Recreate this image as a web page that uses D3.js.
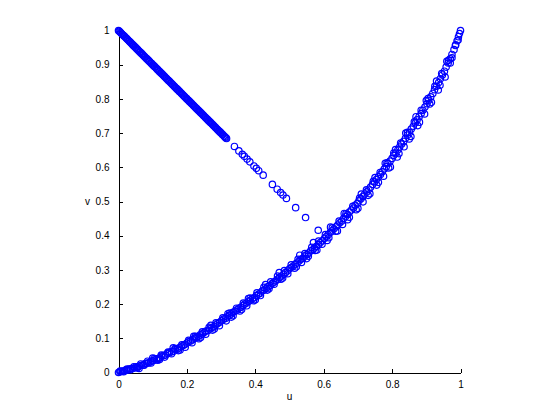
<!DOCTYPE html>
<html>
<head>
<meta charset="utf-8">
<script src="https://cdn.jsdelivr.net/npm/d3@7"></script>
<style>
  body { margin: 0; background: #fff; }
  .axis text { font-family: "Liberation Sans", Arial, sans-serif; font-size: 10px; fill: #000; }
  .axis path, .axis line { stroke: #000; shape-rendering: crispEdges; }
  .label { font-family: "Liberation Sans", Arial, sans-serif; font-size: 10px; fill: #000; }
</style>
</head>
<body>
<div id="chart"></div>
<script>
// points lying on the falling line v = 1 - u
var lineU = [0, 0.004, 0.008, 0.012, 0.016, 0.021, 0.025, 0.03, 0.034, 0.039,
  0.043, 0.048, 0.053, 0.057, 0.062, 0.067, 0.071, 0.076, 0.081, 0.086,
  0.09, 0.095, 0.1, 0.105, 0.11, 0.114, 0.119, 0.124, 0.129, 0.134,
  0.139, 0.144, 0.148, 0.153, 0.158, 0.163, 0.168, 0.173, 0.178, 0.183,
  0.188, 0.193, 0.198, 0.203, 0.208, 0.213, 0.218, 0.223, 0.228, 0.233,
  0.238, 0.243, 0.248, 0.253, 0.258, 0.263, 0.268, 0.273, 0.278, 0.283,
  0.288, 0.293, 0.298, 0.303, 0.308, 0.312, 0.316,
  0.339, 0.352, 0.362, 0.368, 0.376, 0.384, 0.396, 0.403, 0.410, 0.423,
  0.450, 0.464, 0.474, 0.481, 0.491, 0.518, 0.547, 0.584];
var lineV = [1.000, 0.996, 0.992, 0.988, 0.984, 0.979, 0.975, 0.970, 0.966, 0.961,
  0.957, 0.952, 0.947, 0.943, 0.938, 0.933, 0.929, 0.924, 0.919, 0.914,
  0.910, 0.905, 0.900, 0.895, 0.890, 0.886, 0.881, 0.876, 0.871, 0.866,
  0.861, 0.856, 0.852, 0.847, 0.842, 0.837, 0.832, 0.827, 0.822, 0.817,
  0.812, 0.807, 0.802, 0.797, 0.792, 0.787, 0.782, 0.777, 0.772, 0.767,
  0.762, 0.757, 0.752, 0.747, 0.742, 0.737, 0.732, 0.727, 0.722, 0.717,
  0.712, 0.707, 0.702, 0.697, 0.692, 0.688, 0.684,
  0.661, 0.648, 0.638, 0.632, 0.624, 0.616, 0.604, 0.597, 0.590, 0.577,
  0.550, 0.536, 0.526, 0.519, 0.509, 0.482, 0.453, 0.416];

// more points in the dense upper part of the line
var lineU2 = [0.002, 0.006, 0.010, 0.014, 0.018, 0.023, 0.027, 0.032, 0.036, 0.041,
  0.045, 0.050, 0.055, 0.059, 0.064, 0.069, 0.073, 0.078, 0.083, 0.088,
  0.092, 0.097, 0.102, 0.107, 0.112, 0.116, 0.121, 0.126, 0.131, 0.136,
  0.141, 0.146, 0.150, 0.155, 0.160, 0.165, 0.170, 0.175, 0.180, 0.185,
  0.190, 0.195, 0.200, 0.205, 0.210, 0.215, 0.220, 0.225, 0.230, 0.235,
  0.240, 0.245, 0.250, 0.255, 0.260, 0.265, 0.270, 0.275, 0.280, 0.285,
  0.290, 0.295, 0.300, 0.305, 0.310, 0.314];
var lineV2 = [0.998, 0.994, 0.990, 0.986, 0.982, 0.977, 0.973, 0.968, 0.964, 0.959,
  0.955, 0.950, 0.945, 0.941, 0.936, 0.931, 0.927, 0.922, 0.917, 0.912,
  0.908, 0.903, 0.898, 0.893, 0.888, 0.884, 0.879, 0.874, 0.869, 0.864,
  0.859, 0.854, 0.850, 0.845, 0.840, 0.835, 0.830, 0.825, 0.820, 0.815,
  0.810, 0.805, 0.800, 0.795, 0.790, 0.785, 0.780, 0.775, 0.770, 0.765,
  0.760, 0.755, 0.750, 0.745, 0.740, 0.735, 0.730, 0.725, 0.720, 0.715,
  0.710, 0.705, 0.700, 0.695, 0.690, 0.686];

// points on the rising curve from (0,0) to (1,1)
var curveU = [0.000, 0.004, 0.008, 0.012, 0.018, 0.022, 0.027, 0.031, 0.036, 0.041,
  0.047, 0.052, 0.056, 0.061, 0.067, 0.072, 0.078, 0.083, 0.088, 0.094,
  0.099, 0.105, 0.111, 0.116, 0.121, 0.127, 0.133, 0.138, 0.143, 0.149,
  0.155, 0.161, 0.166, 0.172, 0.177, 0.183, 0.189, 0.194, 0.200, 0.205,
  0.211, 0.217, 0.222, 0.228, 0.233, 0.239, 0.245, 0.250, 0.256, 0.262,
  0.267, 0.273, 0.279, 0.284, 0.290, 0.296, 0.301, 0.307, 0.313, 0.318,
  0.324, 0.330, 0.335, 0.341, 0.347, 0.352, 0.358, 0.364, 0.369, 0.375,
  0.381, 0.386, 0.392, 0.398, 0.403, 0.409, 0.415, 0.420, 0.426, 0.432,
  0.437, 0.443, 0.449, 0.454, 0.460, 0.466, 0.471, 0.477, 0.483, 0.488,
  0.494, 0.500, 0.505, 0.511, 0.517, 0.522, 0.528, 0.534, 0.539, 0.545,
  0.551, 0.556, 0.562, 0.568, 0.573, 0.579, 0.585, 0.590, 0.596, 0.602,
  0.607, 0.613, 0.619, 0.624, 0.630, 0.636, 0.641, 0.647, 0.653, 0.658,
  0.664, 0.670, 0.675, 0.681, 0.687, 0.692, 0.698, 0.703, 0.709, 0.715,
  0.720, 0.726, 0.732, 0.737, 0.743, 0.749, 0.754, 0.760, 0.766, 0.771,
  0.777, 0.783, 0.788, 0.794, 0.800, 0.805, 0.811, 0.817, 0.822, 0.828,
  0.834, 0.839, 0.845, 0.851, 0.856, 0.862, 0.868, 0.873, 0.879, 0.885,
  0.890, 0.896, 0.902, 0.907, 0.913, 0.919, 0.924, 0.930, 0.936, 0.941,
  0.947, 0.953, 0.958, 0.964, 0.970, 0.975, 0.981, 0.986, 0.990, 0.994,
  0.997, 1.000,
  0.06, 0.12, 0.18, 0.24, 0.28, 0.33, 0.36, 0.40, 0.44, 0.48,
  0.52, 0.55, 0.58, 0.61, 0.64, 0.67, 0.70, 0.73, 0.76, 0.79,
  0.82, 0.85, 0.88, 0.91, 0.94, 0.97,
  0.10, 0.16, 0.22, 0.27, 0.32, 0.38, 0.43, 0.47, 0.53, 0.57,
  0.62, 0.66, 0.71, 0.75, 0.78, 0.81, 0.84, 0.87, 0.90, 0.93, 0.96];
var curveV = [0.000, 0.002, 0.003, 0.004, 0.005, 0.008, 0.007, 0.010, 0.011, 0.012,
  0.013, 0.017, 0.016, 0.019, 0.021, 0.022, 0.026, 0.027, 0.028, 0.032,
  0.034, 0.036, 0.040, 0.041, 0.043, 0.048, 0.050, 0.051, 0.056, 0.058,
  0.061, 0.062, 0.067, 0.069, 0.072, 0.075, 0.079, 0.082, 0.086, 0.090,
  0.092, 0.096, 0.100, 0.103, 0.105, 0.110, 0.113, 0.117, 0.121, 0.123,
  0.128, 0.131, 0.134, 0.139, 0.143, 0.147, 0.151, 0.156, 0.158, 0.163,
  0.167, 0.171, 0.176, 0.179, 0.183, 0.188, 0.191, 0.196, 0.200, 0.203,
  0.208, 0.212, 0.216, 0.219, 0.225, 0.229, 0.232, 0.238, 0.241, 0.246,
  0.251, 0.254, 0.260, 0.264, 0.268, 0.273, 0.278, 0.282, 0.287, 0.292,
  0.297, 0.303, 0.307, 0.311, 0.317, 0.320, 0.326, 0.331, 0.334, 0.341,
  0.345, 0.349, 0.356, 0.359, 0.364, 0.369, 0.374, 0.380, 0.385, 0.392,
  0.397, 0.403, 0.409, 0.414, 0.420, 0.426, 0.431, 0.438, 0.443, 0.450,
  0.456, 0.462, 0.469, 0.475, 0.481, 0.489, 0.494, 0.502, 0.508, 0.515,
  0.522, 0.528, 0.536, 0.542, 0.550, 0.557, 0.564, 0.572, 0.579, 0.587,
  0.595, 0.602, 0.611, 0.618, 0.626, 0.635, 0.642, 0.651, 0.659, 0.668,
  0.676, 0.685, 0.694, 0.702, 0.712, 0.720, 0.730, 0.739, 0.748, 0.757,
  0.767, 0.776, 0.786, 0.796, 0.806, 0.816, 0.827, 0.837, 0.848, 0.859,
  0.870, 0.881, 0.893, 0.905, 0.917, 0.930, 0.944, 0.958, 0.970, 0.982,
  0.991, 1.000,
  0.012, 0.038, 0.066, 0.102, 0.127, 0.162, 0.184, 0.213, 0.245, 0.276,
  0.309, 0.333, 0.358, 0.386, 0.414, 0.447, 0.480, 0.518, 0.556, 0.598,
  0.640, 0.683, 0.732, 0.785, 0.840, 0.905,
  0.042, 0.072, 0.106, 0.138, 0.172, 0.216, 0.257, 0.292, 0.343, 0.380,
  0.425, 0.465, 0.522, 0.570, 0.612, 0.652, 0.700, 0.748, 0.795, 0.852, 0.910];

// second pass along the curve, either side of the centre, to give the band its width
var curveU2 = [0.005, 0.015, 0.025, 0.035, 0.045, 0.055, 0.065, 0.075, 0.085, 0.095,
  0.105, 0.115, 0.125, 0.135, 0.145, 0.155, 0.165, 0.175, 0.185, 0.195,
  0.205, 0.215, 0.225, 0.235, 0.245, 0.255, 0.265, 0.275, 0.285, 0.295,
  0.305, 0.315, 0.325, 0.335, 0.345, 0.355, 0.365, 0.375, 0.385, 0.395,
  0.405, 0.415, 0.425, 0.435, 0.445, 0.455, 0.465, 0.475, 0.485, 0.495,
  0.505, 0.515, 0.525, 0.535, 0.545, 0.555, 0.565, 0.575, 0.585, 0.595,
  0.605, 0.615, 0.625, 0.635, 0.645, 0.655, 0.665, 0.675, 0.685, 0.695,
  0.705, 0.715, 0.725, 0.735, 0.745, 0.755, 0.765, 0.775, 0.785, 0.795,
  0.805, 0.815, 0.825, 0.835, 0.845, 0.855, 0.865, 0.875, 0.885, 0.895,
  0.905, 0.915, 0.925, 0.935, 0.945, 0.955, 0.965, 0.975, 0.985, 0.993];
var curveV2 = [0.004, 0.002, 0.010, 0.008, 0.017, 0.014, 0.025, 0.021, 0.033, 0.028,
  0.041, 0.036, 0.051, 0.045, 0.060, 0.055, 0.070, 0.064, 0.081, 0.074,
  0.094, 0.087, 0.106, 0.099, 0.119, 0.112, 0.132, 0.124, 0.145, 0.137,
  0.160, 0.151, 0.174, 0.166, 0.188, 0.180, 0.203, 0.195, 0.218, 0.210,
  0.233, 0.225, 0.249, 0.241, 0.265, 0.258, 0.282, 0.273, 0.298, 0.289,
  0.315, 0.305, 0.331, 0.322, 0.348, 0.340, 0.366, 0.357, 0.384, 0.375,
  0.403, 0.394, 0.423, 0.413, 0.443, 0.433, 0.464, 0.454, 0.486, 0.476,
  0.510, 0.499, 0.534, 0.523, 0.559, 0.548, 0.585, 0.574, 0.613, 0.601,
  0.642, 0.630, 0.671, 0.660, 0.702, 0.690, 0.733, 0.722, 0.767, 0.756,
  0.801, 0.790, 0.837, 0.826, 0.874, 0.864, 0.913, 0.920, 0.956, 0.972];

var xTicks = [0, 0.2, 0.4, 0.6, 0.8, 1];
var yTicks = [0, 0.1, 0.2, 0.3, 0.4, 0.5, 0.6, 0.7, 0.8, 0.9, 1];

var margin = { top: 30, right: 99, bottom: 47, left: 118 };
var width = 559 - margin.left - margin.right;
var height = 419 - margin.top - margin.bottom;

var x = d3.scaleLinear().domain([0, 1]).range([0, width]);
var y = d3.scaleLinear().domain([0, 1]).range([height, 0]);

var svg = d3.select('#chart')
  .append('svg')
  .attr('width', 559)
  .attr('height', 419)
  .append('g')
  .attr('transform', 'translate(' + (margin.left + 0.5) + ',' + (margin.top + 0.5) + ')');

// matlab style: ticks point inward, no box
var fmt = function(d) { return d3.format('')(+d.toFixed(1)); };

var xAxis = svg.append('g')
  .attr('class', 'axis')
  .attr('transform', 'translate(0,' + height + ')')
  .call(d3.axisBottom(x).tickValues(xTicks).tickFormat(fmt).tickSizeInner(-4).tickSizeOuter(0).tickPadding(8));
xAxis.selectAll('text').attr('dy', '0.71em');

svg.append('g')
  .attr('class', 'axis')
  .call(d3.axisLeft(y).tickValues(yTicks).tickFormat(fmt).tickSizeInner(-4).tickSizeOuter(0).tickPadding(9));

// axis labels
svg.append('text')
  .attr('class', 'label')
  .attr('x', x(0.5))
  .attr('y', height + 27)
  .attr('text-anchor', 'middle')
  .text('u');

svg.append('text')
  .attr('class', 'label')
  .attr('x', -31)
  .attr('y', y(0.5))
  .attr('dy', '0.35em')
  .attr('text-anchor', 'middle')
  .text('v');

var points = d3.zip(lineU, lineV)
  .concat(d3.zip(lineU2, lineV2))
  .concat(d3.zip(curveU, curveV))
  .concat(d3.zip(curveU2, curveV2));

svg.selectAll('circle')
  .data(points)
  .enter().append('circle')
  .attr('cx', function(d) { return x(d[0]); })
  .attr('cy', function(d) { return y(d[1]); })
  .attr('r', 3.2)
  .attr('fill', 'none')
  .attr('stroke', '#0000ff')
  .attr('stroke-width', 1.2);
</script>
</body>
</html>
